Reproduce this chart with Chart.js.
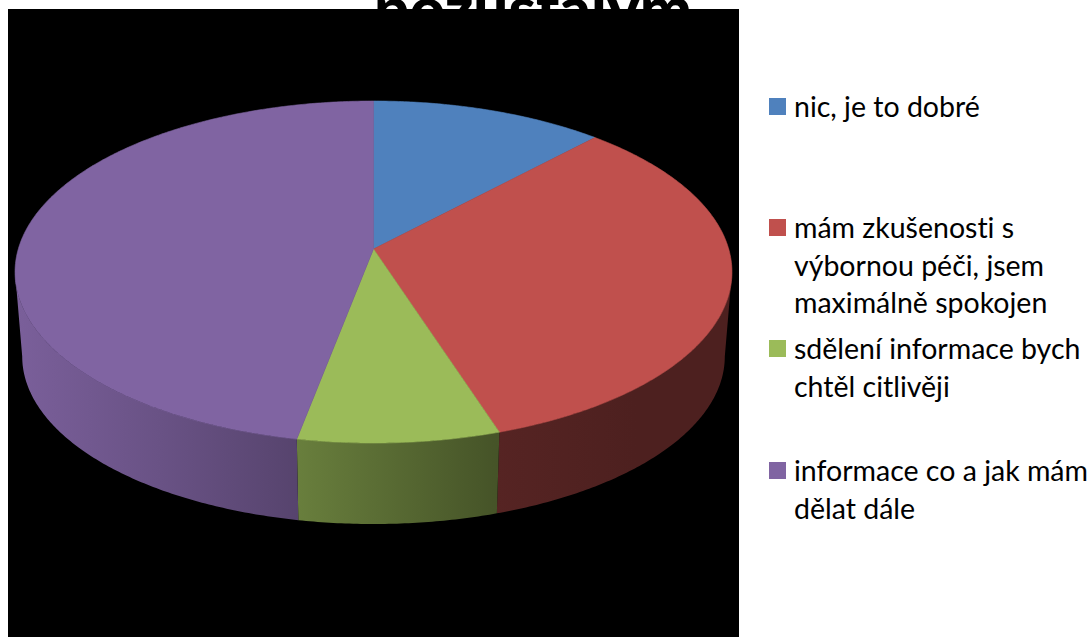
<!DOCTYPE html>
<html lang="cs">
<head>
<meta charset="utf-8">
<title>pozůstalým</title>
<script src="https://cdn.jsdelivr.net/npm/chart.js@4"></script>
<style>
    html, body { margin: 0; padding: 0; background: #fff; }
    body { position: relative; width: 1092px; height: 637px; overflow: hidden; font-family: Lato, "Open Sans", sans-serif; font-variant-ligatures: none; }
    #chart-title { position: absolute; left: 374px; top: -22px; margin: 0; font-size: 62px; line-height: 60px; font-weight: 900; color: #000; white-space: nowrap; }
    #chart-box { position: absolute; left: 8px; top: 9px; width: 731px; height: 628px; background: #000; }
    #legend { position: absolute; left: 0; top: 0; }
    .legend-item { position: absolute; left: 769px; white-space: nowrap; font-size: 28.5px; line-height: 37.7px; color: #000; }
    .legend-item i { position: absolute; left: 0; top: 10px; width: 17px; height: 17px; }
    .legend-item span { display: block; margin-left: 25px; }
    .legend-item:nth-child(1) { top: 88px; }
    .legend-item:nth-child(2) { top: 209px; }
    .legend-item:nth-child(3) { top: 330px; }
    .legend-item:nth-child(4) { top: 452px; }
</style>
</head>
<body>
<h1 id="chart-title">pozůstalým</h1>
<div id="chart-box"><canvas id="pie-chart" width="731" height="628"></canvas></div>
<div id="legend"></div>

<script>
    const categories = ['nic, je to dobré', 'mám zkušenosti s výbornou péči, jsem maximálně spokojen', 'sdělení informace bych chtěl citlivěji', 'informace co a jak mám dělat dále'];
    const legendLines = [
        ['nic, je to dobré'],
        ['mám zkušenosti s', 'výbornou péči, jsem', 'maximálně spokojen'],
        ['sdělení informace bych', 'chtěl citlivěji'],
        ['informace co a jak mám', 'dělat dále']
    ];
    const shares = [12, 33, 8, 47];
    const sliceColors = ['#4f81bd', '#c0504d', '#9bbb59', '#8064a2'];

    // perspective of the pie disc: foreshortening, near side grows by tilt
    const TILT = 0.1346;
    const RADIUS_X = 1.48;
    const RADIUS_Y = 0.6996;
    // the wall shrinks slightly toward a vanishing point far below
    const WALL_SCALE = 0.98;
    const VANISH_Y = 4484;

    // wall brightness from left to right across the disc
    const wallShade = [[0, 0.95], [0.2, 0.82], [0.39, 0.68], [0.67, 0.45], [0.87, 0.4], [1, 0.4]];

    function shade(hex, factor) {
        const n = parseInt(hex.slice(1), 16);
        const r = Math.round((n >> 16 & 255) * factor);
        const g = Math.round((n >> 8 & 255) * factor);
        const b = Math.round((n & 255) * factor);
        return `rgb(${r}, ${g}, ${b})`;
    }

    // point on the top rim for a chart angle (Chart.js angles, 0 = 3 o'clock)
    function topRim(arc, angle) {
        const u = Math.cos(angle);
        const v = Math.sin(angle);
        const w = 1 - TILT * v;
        return {
            x: arc.x + arc.outerRadius * RADIUS_X * u / w,
            y: arc.y + arc.outerRadius * RADIUS_Y * v / w
        };
    }

    function bottomRim(arc, angle) {
        const p = topRim(arc, angle);
        return {
            x: arc.x + (p.x - arc.x) * WALL_SCALE,
            y: VANISH_Y - (VANISH_Y - p.y) * WALL_SCALE
        };
    }

    function anglesBetween(from, to) {
        const steps = Math.max(2, Math.ceil((to - from) / 0.01));
        const list = [];
        for (let i = 0; i <= steps; i++) {
            list.push(from + (to - from) * i / steps);
        }
        return list;
    }

    // only the part of the rim facing the viewer gets a wall
    function drawWall(ctx, arc, color) {
        const frontFrom = Math.asin(TILT);
        const frontTo = Math.PI - frontFrom;
        const from = Math.max(arc.startAngle, frontFrom);
        const to = Math.min(arc.endAngle, frontTo);
        if (to <= from) return;

        const angles = anglesBetween(from, to);
        const left = arc.x - arc.outerRadius * RADIUS_X;
        const right = arc.x + arc.outerRadius * RADIUS_X;
        const gradient = ctx.createLinearGradient(left, 0, right, 0);
        wallShade.forEach(([stop, factor]) => gradient.addColorStop(stop, shade(color, factor)));

        ctx.beginPath();
        angles.forEach((a, i) => {
            const p = topRim(arc, a);
            if (i === 0) ctx.moveTo(p.x, p.y); else ctx.lineTo(p.x, p.y);
        });
        angles.slice().reverse().forEach(a => {
            const p = bottomRim(arc, a);
            ctx.lineTo(p.x, p.y);
        });
        ctx.closePath();
        ctx.fillStyle = gradient;
        ctx.fill();
    }

    function drawFace(ctx, arc, color) {
        ctx.beginPath();
        ctx.moveTo(arc.x, arc.y);
        anglesBetween(arc.startAngle, arc.endAngle).forEach(a => {
            const p = topRim(arc, a);
            ctx.lineTo(p.x, p.y);
        });
        ctx.closePath();
        ctx.fillStyle = color;
        ctx.fill();
        // hides the hairline seam between neighbouring slices
        ctx.strokeStyle = color;
        ctx.lineWidth = 0.6;
        ctx.stroke();
    }

    // replaces the flat arcs with the tilted disc, using the angles Chart.js computed
    const tiltedPie = {
        id: 'tiltedPie',
        beforeDatasetDraw(chart, args) {
            const ctx = chart.ctx;
            const arcs = chart.getDatasetMeta(args.index).data;
            ctx.save();
            arcs.forEach((arc, i) => drawWall(ctx, arc, sliceColors[i]));
            arcs.forEach((arc, i) => drawFace(ctx, arc, sliceColors[i]));
            ctx.restore();
            return false;
        }
    };

    new Chart(document.getElementById('pie-chart'), {
        type: 'pie',
        data: {
            labels: categories,
            datasets: [{ data: shares, backgroundColor: sliceColors, borderWidth: 0 }]
        },
        options: {
            responsive: false,
            animation: false,
            layout: { padding: { bottom: 148 } },
            plugins: {
                legend: { display: false },
                tooltip: { enabled: false }
            }
        },
        plugins: [tiltedPie]
    });

    // legend sits outside the black plot box
    const legendEl = document.getElementById('legend');
    legendLines.forEach((lines, i) => {
        const item = document.createElement('div');
        item.className = 'legend-item';
        const swatch = document.createElement('i');
        swatch.style.background = sliceColors[i];
        item.appendChild(swatch);
        lines.forEach(line => {
            const row = document.createElement('span');
            row.textContent = line;
            item.appendChild(row);
        });
        legendEl.appendChild(item);
    });
</script>
</body>
</html>
